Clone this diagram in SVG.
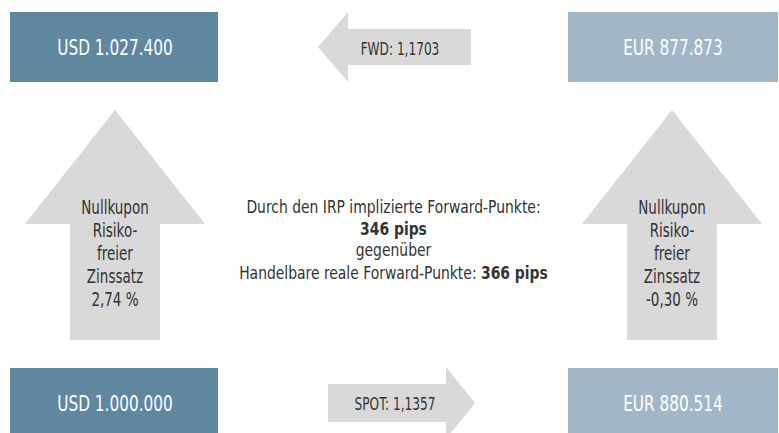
<svg xmlns="http://www.w3.org/2000/svg" width="779" height="433" viewBox="0 0 779 433">
<style>
text{font-family:"DejaVu Sans Condensed","DejaVu Sans",sans-serif;font-stretch:condensed;text-anchor:middle;dominant-baseline:central}
.usd{fill:#5f87a0}
.eur{fill:#a1b7c7}
.arr{fill:#d9d9d9}
.bt{font-size:20.5px;fill:#ffffff}
.at{font-size:19px;fill:#333333}
.st{font-size:18px;fill:#333333}
.ct{font-size:18px;fill:#333333}
.b{font-weight:bold}
</style>
<rect width="779" height="433" fill="#ffffff"/>
<g id="usd-fwd"><rect class="usd" x="10" y="12" width="208" height="70"/><text class="bt" x="115" y="47.5" transform="matrix(0.83,0,0,1,19.55,0)">USD 1.027.400</text></g>
<g id="eur-fwd"><rect class="eur" x="568" y="12" width="210" height="70"/><text class="bt" x="673" y="47.5" transform="matrix(0.83,0,0,1,114.41,0)">EUR 877.873</text></g>
<g id="usd-spot"><rect class="usd" x="10" y="368" width="208" height="70"/><text class="bt" x="115" y="404" transform="matrix(0.83,0,0,1,19.55,0)">USD 1.000.000</text></g>
<g id="eur-spot"><rect class="eur" x="568" y="368" width="210" height="70"/><text class="bt" x="673" y="404" transform="matrix(0.83,0,0,1,114.41,0)">EUR 880.514</text></g>
<g id="connectors">
<g id="fwd-arrow"><polygon class="arr" points="318,47 348,12 348,29 471,29 471,65 348,65 348,82"/><text class="st" x="400" y="48.5" transform="matrix(0.75,0,0,1,100,0)">FWD: 1,1703</text></g>
<g id="spot-arrow"><polygon class="arr" points="328,384 446,384 446,367 475,403 446,439 446,422 328,422"/><text class="st" x="395" y="403.5" transform="matrix(0.75,0,0,1,98.75,0)">SPOT: 1,1357</text></g>
<g id="usd-rate"><polygon class="arr" points="115,110 205,224 160,224 160,340 70,340 70,224 25,224"/>
<text class="at" transform="matrix(0.79,0,0,1,24.15,0)"><tspan x="115" y="207">Nullkupon</tspan><tspan x="115" y="230">Risiko-</tspan><tspan x="115" y="253">freier</tspan><tspan x="115" y="276">Zinssatz</tspan><tspan x="115" y="299.5">2,74 %</tspan></text></g>
<g id="eur-rate"><polygon class="arr" points="672,110 762,224 717,224 717,340 627,340 627,224 582,224"/>
<text class="at" transform="matrix(0.79,0,0,1,141.12,0)"><tspan x="672" y="207">Nullkupon</tspan><tspan x="672" y="230">Risiko-</tspan><tspan x="672" y="253">freier</tspan><tspan x="672" y="276">Zinssatz</tspan><tspan x="672" y="299.5">-0,30 %</tspan></text></g>
</g>
<g id="center-text" transform="matrix(0.86,0,0,1,55.09,0)">
<text class="ct" x="393.5" y="207">Durch den IRP implizierte Forward-Punkte:</text>
<text class="ct b" x="393.5" y="229">346 pips</text>
<text class="ct" x="393.5" y="250">gegenüber</text>
<text class="ct" x="393.5" y="273">Handelbare reale Forward-Punkte: <tspan class="b">366 pips</tspan></text>
</g>
</svg>
